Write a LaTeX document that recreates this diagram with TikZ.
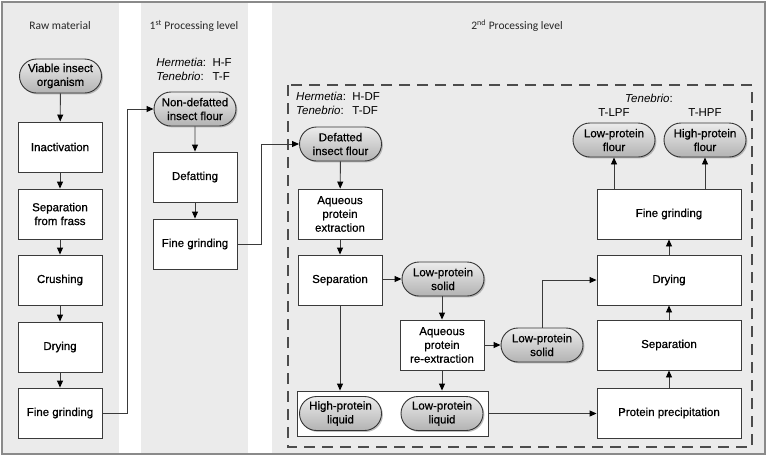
\documentclass[tikz,border=0pt]{standalone}
\usepackage{fontspec}
\setmainfont{Liberation Sans}
\newfontfamily\nodefont{Liberation Sans}[FakeBold=0.7]
\newfontfamily\hdrfont{Carlito}
\usetikzlibrary{arrows.meta,shapes.misc,shadows}
\definecolor{linec}{HTML}{3A3A3A}
\definecolor{panel}{HTML}{EBEBEB}
\definecolor{framec}{HTML}{8A8A8A}
\tikzset{
  box/.style={draw=linec, fill=white, line width=0.9pt, minimum width=84pt, minimum height=50pt, align=center, inner sep=1pt, font=\nodefont\fontsize{11.5}{13.8}\selectfont},
  wbox/.style={box, minimum width=144pt},
  pill/.style={rounded rectangle, draw=black!80, line width=0.9pt, minimum width=84pt, minimum height=34pt, inner sep=1pt, align=center, font=\nodefont\fontsize{11.5}{13.8}\selectfont, top color=gray!15, bottom color=gray!60, drop shadow={shadow xshift=1.4pt, shadow yshift=-1.4pt, opacity=0.5}},
  arr/.style={draw=linec, line width=0.9pt, -{Triangle[length=7pt,width=6pt,color=black]}},
  hdr/.style={font=\hdrfont\fontsize{11.5}{14}\selectfont, text=black!85},
  lbl/.style={inner sep=0pt}
}
\begin{document}
\begin{tikzpicture}[x=1pt,y=-1pt, font=\fontsize{11.5}{13.8}\selectfont]
\useasboundingbox (0,0) rectangle (767,456);
\fill[white] (0,0) rectangle (767,456);
\fill[panel] (3,3) rectangle (119,453);
\fill[panel] (141,3) rectangle (248,453);
\fill[panel] (272,3) rectangle (764,453);
\draw[framec, line width=1.3pt] (2,2) rectangle (765,454);

% headers
\node[hdr] (h1) at (60,26) {Raw material};
\node[hdr] (h2) at (194,26) {1\textsuperscript{st} Processing level};
\node[hdr] (h3) at (517,26) {2\textsuperscript{nd} Processing level};

% dashed frame
\draw[draw=black!70, line width=1.1pt, dash pattern=on 11pt off 7pt] (288,85) rectangle (752,447);

% column 1
\node[pill] (viable) at (60.5,76) {Viable insect\\organism};
\node[box] (inact) at (60,147) {Inactivation};
\node[box] (sepf) at (60,214) {Separation\\from frass};
\node[box] (crush) at (60,280) {Crushing};
\node[box] (dry1) at (60,347) {Drying};
\node[box] (fg1) at (60,413) {Fine grinding};

% column 2
\node[lbl] (hf) at (194,71) {\begin{tabular}{@{}l@{\ \ }l@{}}\textit{Hermetia}: & H-F\\ \textit{Tenebrio}: & T-F\end{tabular}};
\node[pill] (ndf) at (195,109) {Non-defatted\\insect flour};
\node[box] (deff) at (195,177) {Defatting};
\node[box] (fg2) at (195,244) {Fine grinding};

% column 3
\node[lbl, anchor=west] (hdf) at (296,104.5) {\begin{tabular}{@{}l@{\ \ }l@{}}\textit{Hermetia}: & H-DF\\ \textit{Tenebrio}: & T-DF\end{tabular}};
\node[pill] (defl) at (340.5,144) {Defatted\\insect flour};
\node[box] (aqx) at (340,214) {Aqueous\\protein\\extraction};
\node[box] (sep3) at (340,280) {Separation};
\node[pill] (lps1) at (443,279) {Low-protein\\solid};
\node[box] (reex) at (442,345) {Aqueous\\protein\\re-extraction};
\node[pill] (lps2) at (542,345) {Low-protein\\solid};
\node[draw=linec, fill=white, line width=0.9pt, minimum width=191pt, minimum height=45pt, inner sep=0pt] (cont) at (392.5,413.5) {};
\node[pill] (hpl) at (340.5,413.5) {High-protein\\liquid};
\node[pill] (lpl) at (442,413.5) {Low-protein\\liquid};
\node[wbox] (pp) at (669,413) {Protein precipitation};
\node[wbox] (sep4) at (669,345) {Separation};
\node[wbox] (dry4) at (669,280) {Drying};
\node[wbox] (fg4) at (669,214) {Fine grinding};
\node[pill] (lpf) at (614,140) {Low-protein\\flour};
\node[pill] (hpf) at (705,140) {High-protein\\flour};
\node[lbl] (ten) at (649,98) {\textit{Tenebrio}:};
\node[lbl] (tlpf) at (614,113) {T-LPF};
\node[lbl] (thpf) at (705,113) {T-HPF};

% connectors column 1
\draw[arr] (viable) -- (inact);
\draw[arr] (inact) -- (sepf);
\draw[arr] (sepf) -- (crush);
\draw[arr] (crush) -- (dry1);
\draw[arr] (dry1) -- (fg1);
\coordinate (j1) at (127,413);
\draw[arr] (fg1.east) -- (j1) |- (ndf.west);

% column 2
\draw[arr] (ndf) -- (deff);
\draw[arr] (deff) -- (fg2);
\coordinate (j2) at (261,244);
\draw[arr] (fg2.east) -- (j2) |- (defl.west);

% column 3
\draw[arr] (defl) -- (aqx);
\draw[arr] (aqx) -- (sep3);
\draw[arr] (sep3.east |- lps1.west) -- (lps1.west);
\draw[arr] (sep3.south) -- (sep3.south |- cont.north);
\draw[arr] (lps1.south -| reex.north) -- (reex.north);
\draw[arr] (reex.south) -- (reex.south |- cont.north);
\draw[arr] (reex.east) -- (lps2.west);
\draw[arr] (lps2.north) |- (dry4.west);
\draw[arr] (cont.east) -- (cont.east -| pp.west);
\draw[arr] (pp) -- (sep4);
\draw[arr] (sep4) -- (dry4);
\draw[arr] (dry4) -- (fg4);
\draw[arr] (lpf.south |- fg4.north) -- (lpf.south);
\draw[arr] (hpf.south |- fg4.north) -- (hpf.south);
\end{tikzpicture}
\end{document}
